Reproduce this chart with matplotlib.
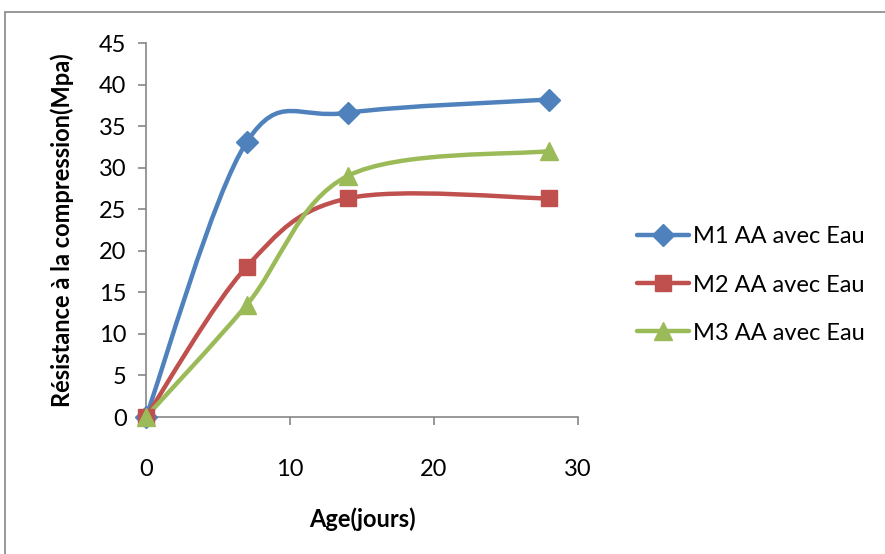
import numpy as np
import matplotlib
matplotlib.use('Agg')
from matplotlib import pyplot as plt
from matplotlib.path import Path
from matplotlib.patches import PathPatch, Rectangle
from matplotlib.lines import Line2D

plt.rcParams['font.family'] = ['Lato', 'DejaVu Sans']

age = [0, 7, 14, 28]
m1 = [0, 33.1, 36.6, 38.2]
m2 = [0, 18.1, 26.3, 26.3]
m3 = [0, 13.5, 29.0, 32.0]
labels = ['M1 AA avec Eau', 'M2 AA avec Eau', 'M3 AA avec Eau']
colors = ['#4F81BD', '#C0504D', '#9BBB59']
markers = ['D', 's', '^']
msizes = [11, 12, 13]


def smooth_path(x, y):
    # Excel-like smoothed line: cubic bezier through points (Catmull-Rom)
    p = np.column_stack([x, y]).astype(float)
    verts = [p[0]]
    codes = [Path.MOVETO]
    n = len(p)
    for i in range(n - 1):
        p0 = p[i - 1] if i > 0 else p[i]
        p3 = p[i + 2] if i + 2 < n else p[i + 1]
        c1 = p[i] + (p[i + 1] - p0) / 6
        c2 = p[i + 1] - (p3 - p[i]) / 6
        verts += [c1, c2, p[i + 1]]
        codes += [Path.CURVE4] * 3
    return Path(verts, codes)


fig = plt.figure(figsize=(8.85, 5.54), dpi=100)
fig.patches.append(Rectangle((5 / 885, -0.1), 1.1, 1 - 12 / 554 + 0.1,
                             transform=fig.transFigure, fill=False,
                             edgecolor='#868686', lw=1.2, zorder=0))
ax = fig.add_axes([146 / 885, 1 - 417 / 554, (578 - 146) / 885, (417 - 43) / 554])

handles = []
for ys, lab, c, mk, ms in zip([m1, m2, m3], labels, colors, markers, msizes):
    ax.add_patch(PathPatch(smooth_path(age, ys), fill=False, edgecolor=c,
                           lw=3.2, capstyle='round', joinstyle='round', zorder=3))
    ax.plot(age, ys, linestyle='none', marker=mk, ms=ms, color=c, zorder=4,
            clip_on=False)
    handles.append(Line2D([0], [0], color=c, lw=3.2, marker=mk, ms=ms,
                          solid_capstyle='round'))

ax.set_xlim(0, 30)
ax.set_ylim(0, 45)
ax.set_xticks([0, 10, 20, 30])
ax.set_yticks(range(0, 50, 5))
for s in ['top', 'right']:
    ax.spines[s].set_visible(False)
for s in ['left', 'bottom']:
    ax.spines[s].set_color('#868686')
    ax.spines[s].set_linewidth(1.2)
ax.tick_params(axis='both', colors='#868686', labelcolor='black',
               labelsize=17, length=6, width=1.2, direction='out')
ax.tick_params(axis='x', pad=24)
ax.tick_params(axis='y', pad=8)

ax.set_xlabel('Age(jours)', fontsize=17, fontweight='bold', labelpad=20)
ax.set_ylabel('Résistance à la compression(Mpa)', fontsize=17,
              fontweight='bold', labelpad=18)

fig.legend(handles, labels, loc='center left',
           bbox_to_anchor=(616 / 885, 1 - 285 / 554), frameon=False,
           fontsize=17, handlelength=2.2, labelspacing=1.15, handletextpad=0.15)

fig.savefig('out.png', dpi=100)
